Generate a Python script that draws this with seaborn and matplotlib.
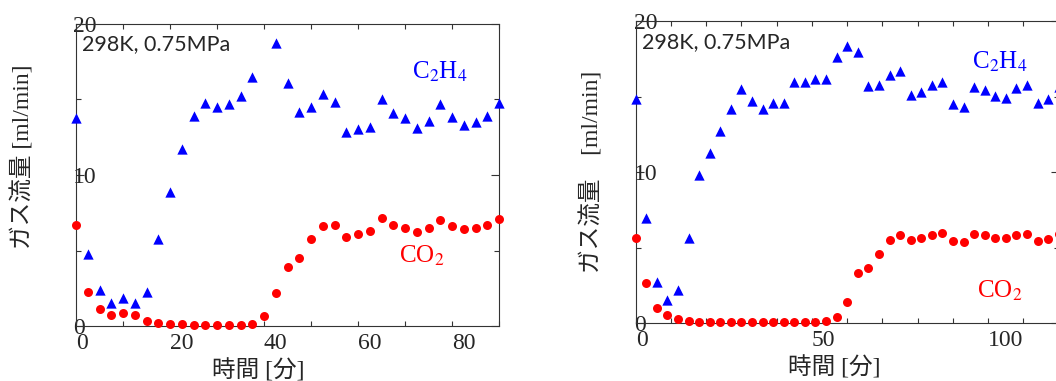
import matplotlib
matplotlib.use("Agg")
import numpy as np
import matplotlib.pyplot as plt
from matplotlib.ticker import MultipleLocator
import seaborn as sns

# ---- run 1: 298 K, 0.75 MPa, sampled every 2.5 min ----
time_a = [0, 2.5, 5, 7.5, 10, 12.5, 15, 17.5, 20, 22.5, 25, 27.5, 30, 32.5, 35,
          37.5, 40, 42.5, 45, 47.5, 50, 52.5, 55, 57.5, 60, 62.5, 65, 67.5, 70,
          72.5, 75, 77.5, 80, 82.5, 85, 87.5, 90]
c2h4_a = [13.8, 4.75, 2.4, 1.5, 1.83, 1.5, 2.23, 5.74, 8.85, 11.7, 13.93, 14.75,
          14.48, 14.7, 15.25, 16.47, np.nan, 18.76, 16.11, 14.19, 14.53, 15.34,
          14.86, 12.87, 13.02, 13.2, 15.03, 14.13, 13.75, 13.09, 13.6, 14.7,
          13.82, 13.31, 13.53, 13.91, 14.75]
co2_a = [6.69, 2.27, 1.13, 0.75, 0.88, 0.73, 0.33, 0.2, 0.15, 0.11, 0.07, 0.04,
         0.04, 0.04, 0.04, 0.15, 0.66, 2.16, 3.89, 4.53, 5.78, 6.62, 6.67, 5.92,
         6.07, 6.27, 7.13, 6.71, 6.51, 6.25, 6.51, 7.04, 6.62, 6.4, 6.51, 6.67,
         7.06]

# ---- run 2: 298 K, 0.75 MPa, sampled every 3 min ----
time_b = [0, 3, 6, 9, 12, 15, 18, 21, 24, 27, 30, 33, 36, 39, 42, 45, 48, 51,
          54, 57, 60, 63, 66, 69, 72, 75, 78, 81, 84, 87, 90, 93, 96, 99, 102,
          105, 108, 111, 114, 117, 120]
c2h4_b = [14.85, 7.0, 2.72, 1.52, 2.21, 5.68, 9.79, 11.27, 12.71, 14.21, 15.51,
          14.74, 14.19, 14.59, 14.59, 15.96, 15.96, 16.2, 16.2, 17.61, 18.34,
          17.94, 15.73, 15.8, 16.46, 16.73, 15.14, 15.29, 15.76, 15.96, 14.52,
          14.3, 15.65, 15.47, 15.03, 14.92, 15.58, 15.76, 14.59, 14.87, 15.65]
co2_b = [5.66, 2.67, 1.02, 0.57, 0.31, 0.18, 0.11, 0.09, 0.07, 0.06, 0.06, 0.06,
         0.06, 0.06, 0.06, 0.06, 0.07, 0.09, 0.15, 0.44, 1.41, 3.31, 3.69, 4.6,
         5.52, 5.88, 5.5, 5.66, 5.86, 5.99, 5.48, 5.39, 5.92, 5.83, 5.66, 5.66,
         5.86, 5.92, 5.48, 5.55, 5.9]

condition_label = "298K, 0.75MPa"
ylabel_a = "ガス流量 [ml/min]"
ylabel_b = "ガス流量\u3000[ml/min]"
xlabel = "時間 [分]"

sns.set_style("ticks")
plt.rcParams["font.family"] = ["Liberation Serif", "Noto Sans CJK JP"]
plt.rcParams["mathtext.fontset"] = "stix"

W, H = 1056, 381
fig = plt.figure(figsize=(W / 100, H / 100), dpi=100)
ax_a = fig.add_axes([76 / W, (H - 326) / H, 423 / W, 302 / H])
ax_b = fig.add_axes([635.7 / W, (H - 323.3) / H, 423 / W, 302 / H])

FS = 17
SERIF_CJK = ["Liberation Serif", "Noto Sans CJK JP"]


def draw_panel(ax, t, c2h4, co2, xmax, xmajor, ylabel, ylab_pos, xlab_x,
               text_pos, c2h4_pos, co2_pos, ypad):
    sns.scatterplot(x=t, y=c2h4, marker="^", color="#0000ff", s=55,
                    linewidth=0, ax=ax, clip_on=False, zorder=3)
    sns.scatterplot(x=t, y=co2, marker="o", color="#ff0000", s=42,
                    linewidth=0, ax=ax, clip_on=False, zorder=3)
    ax.set_xlim(0, xmax)
    ax.set_ylim(0, 20)
    ax.xaxis.set_major_locator(MultipleLocator(xmajor))
    ax.xaxis.set_minor_locator(MultipleLocator(10))
    ax.yaxis.set_major_locator(MultipleLocator(10))
    ax.yaxis.set_minor_locator(MultipleLocator(5))
    for s in ax.spines.values():
        s.set_visible(True)
        s.set_color("#333333")
        s.set_linewidth(0.8)
    ax.tick_params(which="both", direction="in", top=True, right=True,
                   color="#333333", width=0.8, labelsize=FS)
    ax.tick_params(axis="x", which="both", length=3.5, pad=5)
    ax.tick_params(axis="y", which="major", length=6, pad=ypad)
    ax.tick_params(axis="y", which="minor", length=3.5)
    ax.set_xticks(ax.get_xticks())
    ax.set_yticks([0, 10, 20])
    plt.setp(ax.get_xticklabels(), ha="left")
    plt.setp(ax.get_yticklabels(), ha="left")
    ax.set_xlabel("")
    ax.set_ylabel("")

    ax.text(ylab_pos[0], ylab_pos[1], ylabel, transform=ax.transAxes,
            rotation=90, ha="center", va="center", fontsize=FS,
            family=SERIF_CJK)
    ax.text(xlab_x, -0.148, xlabel, transform=ax.transAxes,
            ha="center", va="center", fontsize=FS, family=SERIF_CJK)
    ax.text(text_pos[0], text_pos[1], condition_label, transform=ax.transAxes,
            ha="left", va="center", fontsize=15.5, family="Lato")
    ax.text(c2h4_pos[0], c2h4_pos[1], "C$_2$H$_4$", transform=ax.transAxes,
            ha="left", va="baseline", fontsize=18, color="#0000ff")
    ax.text(co2_pos[0], co2_pos[1], "CO$_2$", transform=ax.transAxes,
            ha="left", va="baseline", fontsize=18, color="#ff0000")


draw_panel(ax_a, time_a, c2h4_a, co2_a, 90, 20, ylabel_a,
           (-0.125, 0.56), 0.43, (0.014, 0.934), (0.794, 0.818),
           (0.764, 0.209), 2.2)
ax_a.set_xlim(0, 90)
draw_panel(ax_b, time_b, c2h4_b, co2_b, 120, 50, ylabel_b,
           (-0.103, 0.50), 0.469, (0.015, 0.931), (0.795, 0.844),
           (0.807, 0.085), 1.0)
ax_b.set_xlim(0, 120)

fig.savefig("out.png", dpi=100)
